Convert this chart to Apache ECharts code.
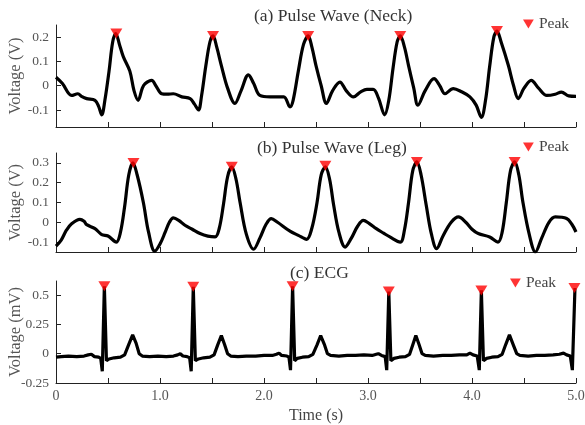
<!DOCTYPE html>
<html>
<head>
<meta charset="UTF-8">
<title>Pulse wave and ECG</title>
<script src="https://cdn.jsdelivr.net/npm/echarts@6/dist/echarts.min.js"></script>
<style>
  html, body { margin: 0; padding: 0; background: #fff; }
  #main { width: 585px; height: 425px; }
</style>
</head>
<body>
<div id="main"></div>
<script>
// [time (s), voltage]
const neckWave = [[0,0.035],[0.06,0.01],[0.15,-0.04],[0.21,-0.033],[0.25,-0.045],[0.295,-0.053],[0.375,-0.06],[0.41,-0.085],[0.44,-0.12],[0.47,-0.06],[0.51,0.06],[0.545,0.18],[0.575,0.215],[0.61,0.17],[0.647,0.12],[0.71,0.06],[0.75,-0.02],[0.79,-0.06],[0.83,-0.01],[0.856,0.008],[0.92,0.022],[0.96,0.0],[1.016,-0.033],[1.07,-0.035],[1.128,-0.033],[1.21,-0.046],[1.29,-0.053],[1.33,-0.075],[1.37,-0.10],[1.40,-0.04],[1.44,0.08],[1.48,0.18],[1.51,0.205],[1.545,0.16],[1.59,0.083],[1.65,-0.01],[1.72,-0.073],[1.78,-0.02],[1.85,0.045],[1.90,0.01],[1.96,-0.04],[2.06,-0.046],[2.19,-0.046],[2.25,-0.087],[2.28,-0.06],[2.33,0.06],[2.38,0.17],[2.425,0.205],[2.46,0.16],[2.5,0.083],[2.55,0.0],[2.60,-0.073],[2.66,-0.02],[2.73,0.015],[2.79,-0.02],[2.86,-0.046],[2.93,-0.025],[2.99,-0.015],[3.05,-0.015],[3.10,-0.05],[3.16,-0.12],[3.20,-0.06],[3.24,0.07],[3.28,0.18],[3.31,0.205],[3.35,0.16],[3.39,0.083],[3.44,-0.01],[3.48,-0.08],[3.55,-0.02],[3.635,0.029],[3.69,0.0],[3.74,-0.033],[3.82,-0.012],[3.90,-0.025],[3.98,-0.046],[4.04,-0.08],[4.09,-0.13],[4.13,-0.06],[4.17,0.08],[4.21,0.20],[4.24,0.225],[4.28,0.18],[4.35,0.083],[4.40,0.0],[4.445,-0.053],[4.50,-0.01],[4.57,0.022],[4.64,-0.01],[4.72,-0.04],[4.80,-0.035],[4.86,-0.026],[4.93,-0.042],[5.0,-0.044]];
const neckPeaks = [[0.58,0.215],[1.51,0.205],[2.425,0.205],[3.31,0.205],[4.24,0.225]];

const legWave = [[0,-0.12],[0.05,-0.09],[0.1,-0.04],[0.15,-0.007],[0.23,0.015],[0.27,0.005],[0.295,-0.012],[0.375,-0.032],[0.44,-0.062],[0.5,-0.069],[0.58,-0.10],[0.62,-0.05],[0.66,0.08],[0.70,0.24],[0.74,0.30],[0.78,0.24],[0.84,0.10],[0.89,-0.05],[0.95,-0.146],[1.00,-0.11],[1.05,-0.05],[1.09,0.0],[1.128,0.022],[1.18,0.01],[1.24,-0.015],[1.31,-0.035],[1.385,-0.057],[1.46,-0.07],[1.53,-0.074],[1.57,-0.03],[1.61,0.09],[1.65,0.23],[1.69,0.28],[1.73,0.22],[1.77,0.10],[1.83,-0.06],[1.90,-0.136],[1.96,-0.08],[2.02,-0.01],[2.07,0.019],[2.13,0.0],[2.25,-0.045],[2.33,-0.066],[2.41,-0.086],[2.46,-0.03],[2.51,0.1],[2.55,0.24],[2.59,0.28],[2.63,0.22],[2.67,0.086],[2.72,-0.05],[2.78,-0.125],[2.84,-0.08],[2.90,-0.02],[2.955,0.01],[3.01,-0.005],[3.08,-0.032],[3.15,-0.055],[3.21,-0.074],[3.31,-0.10],[3.35,-0.04],[3.39,0.1],[3.43,0.26],[3.47,0.305],[3.51,0.24],[3.56,0.086],[3.61,-0.06],[3.66,-0.133],[3.72,-0.07],[3.80,0.0],[3.87,0.027],[3.94,0.0],[4.00,-0.035],[4.06,-0.057],[4.17,-0.074],[4.25,-0.10],[4.29,-0.05],[4.33,0.1],[4.37,0.26],[4.41,0.305],[4.45,0.24],[4.49,0.10],[4.55,-0.06],[4.61,-0.15],[4.67,-0.08],[4.74,0.0],[4.80,0.027],[4.91,0.019],[4.96,-0.01],[5.0,-0.049]];
const legPeaks = [[0.745,0.30],[1.69,0.28],[2.59,0.285],[3.47,0.305],[4.41,0.305]];

const ecgWave = [[0,-0.03],[0.05,-0.025],[0.12,-0.02],[0.2,-0.025],[0.27,-0.02],[0.31,-0.01],[0.34,-0.005],[0.37,-0.025],[0.41,-0.03],[0.43,-0.04],[0.445,-0.15],[0.465,0.575],[0.485,-0.06],[0.51,-0.045],[0.56,-0.035],[0.62,-0.03],[0.66,-0.01],[0.70,0.08],[0.737,0.16],[0.77,0.09],[0.80,0.0],[0.83,-0.02],[0.9,-0.025],[0.98,-0.02],[1.06,-0.025],[1.13,-0.02],[1.17,-0.01],[1.195,0.0],[1.22,-0.02],[1.26,-0.025],[1.285,-0.035],[1.30,-0.15],[1.32,0.57],[1.34,-0.06],[1.37,-0.045],[1.42,-0.035],[1.48,-0.03],[1.52,-0.01],[1.555,0.075],[1.59,0.155],[1.62,0.08],[1.65,0.0],[1.68,-0.02],[1.75,-0.025],[1.83,-0.02],[1.92,-0.02],[2.00,-0.015],[2.08,-0.015],[2.12,-0.005],[2.145,0.005],[2.17,-0.015],[2.22,-0.02],[2.24,-0.03],[2.255,-0.14],[2.275,0.575],[2.295,-0.06],[2.32,-0.04],[2.37,-0.03],[2.43,-0.025],[2.47,-0.005],[2.51,0.075],[2.545,0.155],[2.58,0.08],[2.61,0.0],[2.64,-0.015],[2.72,-0.02],[2.80,-0.015],[2.88,-0.015],[2.96,-0.01],[3.04,-0.015],[3.08,-0.005],[3.10,0.0],[3.13,-0.015],[3.165,-0.025],[3.18,-0.14],[3.20,0.53],[3.22,-0.06],[3.25,-0.04],[3.30,-0.03],[3.36,-0.025],[3.40,-0.005],[3.43,0.075],[3.46,0.155],[3.49,0.08],[3.52,0.0],[3.55,-0.015],[3.63,-0.02],[3.72,-0.015],[3.80,-0.015],[3.88,-0.01],[3.95,-0.01],[3.98,0.005],[4.01,-0.01],[4.05,-0.02],[4.07,-0.14],[4.09,0.54],[4.11,-0.06],[4.14,-0.04],[4.19,-0.03],[4.25,-0.025],[4.29,-0.005],[4.325,0.08],[4.36,0.16],[4.395,0.08],[4.43,0.0],[4.46,-0.015],[4.54,-0.02],[4.62,-0.015],[4.70,-0.015],[4.78,-0.01],[4.84,-0.005],[4.88,0.005],[4.91,-0.01],[4.945,-0.02],[4.965,-0.14],[4.99,0.56]];
const ecgPeaks = [[0.465,0.575],[1.32,0.57],[2.275,0.575],[3.20,0.53],[4.09,0.54],[4.985,0.56]];

const titles = ['(a) Pulse Wave (Neck)', '(b) Pulse Wave (Leg)', '(c) ECG'];
const yNames = ['Voltage (V)', 'Voltage (V)', 'Voltage (mV)'];
const yRanges = [[-0.17, 0.25], [-0.15, 0.35], [-0.25, 0.62]];
const yTicks = [[-0.1, 0, 0.1, 0.2], [-0.1, 0, 0.1, 0.2, 0.3], [-0.25, 0, 0.25, 0.5]];
const xTicks = [0, 0.5, 1, 1.5, 2, 2.5, 3, 3.5, 4, 4.5, 5];
const xLabels = [0, 1, 2, 3, 4, 5];

const font = 'Liberation Serif';
const tri = 'path://M0,0L12,0L6,10Z';
const grids = [
  { left: 56, right: 9, top: 25, height: 102, outerBoundsMode: 'none' },
  { left: 56, right: 9, top: 153, height: 99, outerBoundsMode: 'none' },
  { left: 56, right: 9, top: 281, height: 102, outerBoundsMode: 'none' }
];
const titlePos = [[249, 2], [252, 134], [285, 259]];
const legendPos = [[518, 11], [518, 134], [505, 270]];
const waves = [neckWave, legWave, ecgWave];
const peaks = [neckPeaks, legPeaks, ecgPeaks];

let chart = echarts.init(document.getElementById('main'));

chart.setOption({
  animation: false,
  title: titles.map((t, i) => ({
    text: t, left: titlePos[i][0], top: titlePos[i][1],
    textStyle: { fontFamily: font, fontSize: 17.5, fontWeight: 'normal', color: '#333' }
  })),
  legend: legendPos.map((p, i) => ({
    left: p[0], top: p[1], data: ['Peak'], icon: tri,
    itemWidth: 11, itemHeight: 9, itemGap: 4,
    textStyle: { fontFamily: font, fontSize: 15.5, color: '#444' }
  })),
  grid: grids,
  xAxis: grids.map((g, i) => ({
    type: 'value', gridIndex: i, min: 0, max: 5, interval: 0.5,
    name: i === 2 ? 'Time (s)' : '', nameLocation: 'middle', nameGap: 25,
    nameMoveOverlap: false,
    nameTextStyle: { fontFamily: font, fontSize: 16, color: '#444' },
    axisLine: { onZero: false, lineStyle: { color: '#222', width: 1 } },
    axisTick: { inside: true, length: 5, customValues: xTicks, lineStyle: { color: '#222' } },
    axisLabel: {
      show: i === 2, customValues: xLabels, margin: 6,
      fontFamily: font, fontSize: 14, color: '#555',
      formatter: v => v === 0 ? '0' : v.toFixed(1)
    },
    splitLine: { show: false }
  })),
  yAxis: grids.map((g, i) => ({
    type: 'value', gridIndex: i, min: yRanges[i][0], max: yRanges[i][1],
    name: yNames[i], nameLocation: 'middle', nameGap: 32,
    nameMoveOverlap: false,
    nameTextStyle: { fontFamily: font, fontSize: 16.5, color: '#555' },
    axisLine: { show: true, onZero: false, lineStyle: { color: '#222', width: 1 } },
    axisTick: { show: true, inside: true, length: 5, customValues: yTicks[i], lineStyle: { color: '#222' } },
    axisLabel: { customValues: yTicks[i], margin: 7, fontFamily: font, fontSize: 13.5, color: '#555' },
    splitLine: { show: false }
  })),
  series: [].concat(
    waves.map((w, i) => ({
      type: 'line', xAxisIndex: i, yAxisIndex: i, data: w,
      smooth: i === 2 ? false : 0.35, showSymbol: false,
      lineStyle: { color: '#000', width: 3.2 }
    })),
    peaks.map((p, i) => ({
      name: 'Peak', type: 'scatter', xAxisIndex: i, yAxisIndex: i, data: p,
      symbol: tri, symbolSize: [12, 10], z: 5,
      itemStyle: { color: '#ff0000' }
    }))
  )
});
</script>
</body>
</html>
